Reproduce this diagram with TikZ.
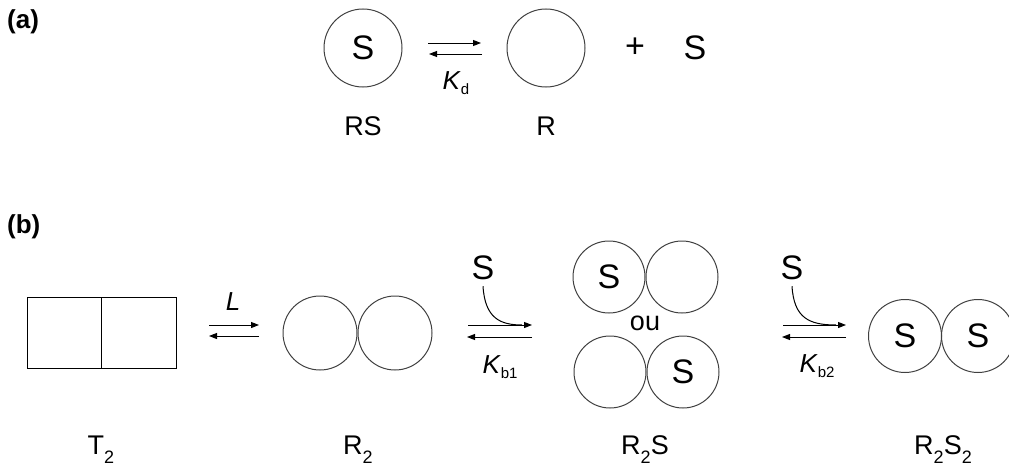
\documentclass[tikz,border=0pt]{standalone}
\usepackage{fontspec}
\setmainfont{Liberation Sans}
\usetikzlibrary{arrows.meta}
\newcommand{\mysub}[1]{\raisebox{-9pt}{\fontsize{18}{18}\selectfont #1}}
\newcommand{\ksub}[1]{\raisebox{-5pt}{\fontsize{15}{15}\selectfont #1}}
\begin{document}
\begin{tikzpicture}[x=1pt,y=-1pt,
  mol/.style={circle,draw=black!75,line width=1pt,minimum size=74pt,inner sep=0pt,font=\fontsize{34}{38}\selectfont},
  lbl/.style={font=\fontsize{27}{30}\selectfont,inner sep=0pt},
  big/.style={font=\fontsize{34}{38}\selectfont,inner sep=0pt},
  klbl/.style={font=\fontsize{26}{28}\selectfont,inner sep=0pt},
  panel/.style={font=\bfseries\fontsize{26}{28}\selectfont,inner sep=0pt,anchor=north west},
  eqarrow/.style={line width=1pt,-{Triangle[length=8pt,width=6pt]}},
  boxline/.style={line width=1pt,draw=black}]
\useasboundingbox (0,0) rectangle (1009,471);
% (a)
\node[panel] (pa) at (7,9) {(a)};
\node[mol,minimum size=78pt] (rs) at (363,48) {S};
\node[mol,minimum size=78pt] (r) at (546,48) {};
\node[big] (plus) at (635,48) {+};
\node[big] (sfree) at (695,48) {S};
\node[lbl] (rslbl) at (363,126) {RS};
\node[lbl] (rlbl) at (546,126) {R};
\coordinate (a1s) at (428,43); \coordinate (a1e) at (481,43);
\coordinate (a2s) at (482,54); \coordinate (a2e) at (429,54);
\draw[eqarrow] (a1s) -- (a1e);
\draw[eqarrow] (a2s) -- (a2e);
\node[klbl] (kd) at (456,83) {\textit{K}\ksub{d}};
% (b)
\node[panel] (pb) at (7,214) {(b)};
\node[boxline,draw,minimum width=74.5pt,minimum height=71pt,inner sep=0pt] (t2l) at (64.25,332.5) {};
\node[boxline,draw,minimum width=74.5pt,minimum height=71pt,inner sep=0pt] (t2r) at (138.75,332.5) {};
\node[lbl] (t2lbl) at (101,450) {T\mysub{2}};
\coordinate (l1s) at (209,325); \coordinate (l1e) at (259,325);
\coordinate (l2s) at (259,336); \coordinate (l2e) at (209,336);
\draw[eqarrow] (l1s) -- (l1e);
\draw[eqarrow] (l2s) -- (l2e);
\node[klbl] (L) at (233,302) {\textit{L}};
% R2
\node[mol] (r2a) at (320,333) {};
\node[mol] (r2b) at (395,333) {};
\node[lbl] (r2lbl) at (358,450) {R\mysub{2}};
% Kb1
\node[big] (s1) at (483,268) {S};
\coordinate (b1s) at (468,325); \coordinate (b1e) at (532,325);
\coordinate (b2s) at (532,337); \coordinate (b2e) at (467,337);
\coordinate (c1) at (522,325);
\draw[eqarrow] (b1s) -- (b1e);
\draw[eqarrow] (b2s) -- (b2e);
\draw[line width=1pt] (s1.south) ++(0,6) .. controls (485,318) and (500,325) .. (c1);
\node[klbl] (kb1) at (500,367) {\textit{K}\ksub{b1}};
% R2S
\node[mol,minimum size=72pt] (u1) at (609,277) {S};
\node[mol,minimum size=72pt] (u2) at (682,277) {};
\node[lbl] (ou) at (645,323) {ou};
\node[mol,minimum size=72pt] (d1) at (610,372) {};
\node[mol,minimum size=72pt] (d2) at (683,372) {S};
\node[lbl] (r2slbl) at (645,450) {R\mysub{2}S};
% Kb2
\node[big] (s2) at (792,268) {S};
\coordinate (k1s) at (783,325); \coordinate (k1e) at (846,325);
\coordinate (k2s) at (846,337); \coordinate (k2e) at (782,337);
\coordinate (c2) at (836,325);
\draw[eqarrow] (k1s) -- (k1e);
\draw[eqarrow] (k2s) -- (k2e);
\draw[line width=1pt] (s2.south) ++(0,6) .. controls (794,318) and (809,325) .. (c2);
\node[klbl] (kb2) at (817,366) {\textit{K}\ksub{b2}};
% R2S2
\node[mol,minimum size=73pt] (e1) at (905,336) {S};
\node[mol,minimum size=73pt] (e2) at (978,336) {S};
\node[lbl] (r2s2lbl) at (943,450) {R\mysub{2}S\mysub{2}};
\end{tikzpicture}
\end{document}
